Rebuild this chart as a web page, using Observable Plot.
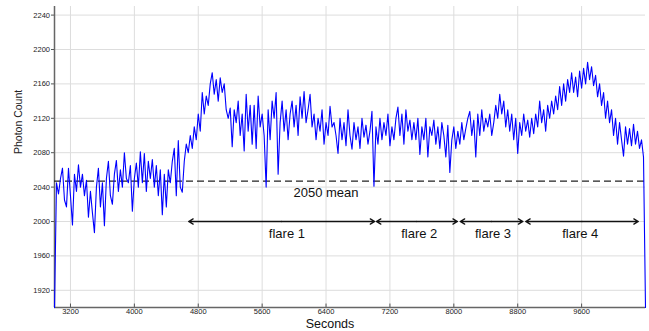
<!DOCTYPE html>
<html><head><meta charset="utf-8">
<script src="https://cdn.jsdelivr.net/npm/d3@7"></script>
<script src="https://cdn.jsdelivr.net/npm/@observablehq/plot@0.6"></script>
<style>body{margin:0;background:#fff}#chart{width:649px;height:331px}</style>
</head><body><div id="chart"></div>
<script>
const startSecond = 3000;
const stepSeconds = 25;
const photonCounts = [
1900,2045,2032,2050,2062,2025,2017,2062,2030,1996,
2055,2035,2066,2040,2055,2030,2048,2005,2035,2010,
1987,2040,2062,2017,2045,1995,2050,2070,2030,2020,
2055,2071,2035,2060,2040,2080,2050,2045,2065,2012,
2050,2068,2040,2081,2045,2079,2035,2070,2050,2072,
2040,2065,2030,2060,2008,2055,2017,2060,2045,2070,
2085,2030,2094,2040,2034,2070,2090,2080,2100,2085,
2110,2095,2125,2105,2150,2125,2146,2135,2160,2173,
2148,2165,2140,2167,2150,2160,2130,2120,2132,2087,
2130,2115,2140,2100,2125,2082,2148,2105,2135,2090,
2135,2085,2146,2110,2125,2100,2040,2130,2095,2140,
2120,2150,2055,2115,2140,2105,2130,2095,2125,2140,
2110,2135,2100,2145,2120,2151,2115,2130,2148,2110,
2125,2095,2120,2105,2130,2090,2115,2100,2134,2110,
2115,2100,2079,2120,2095,2115,2088,2130,2100,2084,
2115,2095,2110,2085,2120,2098,2112,2090,2105,2128,
2041,2110,2090,2120,2095,2115,2100,2125,2088,2110,
2095,2120,2133,2100,2125,2090,2130,2105,2118,2095,
2115,2095,2120,2078,2110,2095,2120,2075,2110,2100,
2118,2090,2110,2085,2115,2100,2075,2112,2057,2095,
2110,2085,2105,2090,2115,2095,2108,2120,2128,2100,
2118,2075,2125,2100,2130,2105,2120,2110,2125,2100,
2115,2135,2120,2148,2125,2140,2110,2130,2105,2125,
2095,2120,2079,2115,2100,2125,2105,2118,2098,2120,
2102,2125,2110,2140,2115,2130,2105,2135,2120,2140,
2125,2146,2130,2157,2135,2160,2140,2165,2150,2173,
2150,2168,2145,2175,2155,2178,2160,2185,2165,2180,
2158,2170,2145,2160,2135,2150,2120,2140,2115,2130,
2100,2120,2090,2115,2095,2076,2110,2090,2108,2088,
2113,2090,2105,2085,2095,2075,1900
];
const meanCount = [2047];
const meanLabel = ["2050 mean"];
const meanLabelX = [6400];
const flareNames = ["flare 1", "flare 2", "flare 3", "flare 4"];
const flareStart = [4680, 7030, 8080, 8900];
const flareEnd = [7010, 8045, 8865, 10310];
const flareLabelX = [5910, 7567, 8490, 9583];
const flareArrowY = 2000;
const xTicks = [3200, 4000, 4800, 5600, 6400, 7200, 8000, 8800, 9600];
const yTicks = [1920, 1960, 2000, 2040, 2080, 2120, 2160, 2200, 2240];
const xDomain = [3000, 10400];
const yDomain = [1900, 2250];

const series = photonCounts.map((c, i) => ({t: startSecond + i * stepSeconds, c}));
const flares = flareNames.map((name, i) => ({
  name, s: flareStart[i], e: flareEnd[i], m: (flareStart[i] + flareEnd[i]) / 2, lx: flareLabelX[i]
}));
const font = "'Liberation Sans', Arial, Helvetica, sans-serif";
const fmt = d => String(d);

const chart = Plot.plot({
  width: 649, height: 331,
  marginLeft: 54, marginRight: 4, marginTop: 6, marginBottom: 24,
  style: {fontFamily: font, background: "white", overflow: "visible"},
  x: {domain: xDomain},
  y: {domain: yDomain},
  marks: [
    Plot.gridX(xTicks, {stroke: "#dddddd", strokeOpacity: 1}),
    Plot.gridY(yTicks, {stroke: "#dddddd", strokeOpacity: 1}),
    Plot.axisX(xTicks, {tickSize: 0, tickPadding: 1.5, fontSize: 7.5, fill: "#222", label: null, tickFormat: fmt}),
    Plot.axisY(yTicks, {tickSize: 3, tickPadding: 1.5, fontSize: 7.5, fill: "#222", stroke: "#555", label: null, tickFormat: fmt}),
    Plot.ruleX(xTicks, {y1: yDomain[0], y2: yDomain[0] + 4, stroke: "#555"}),
    Plot.ruleY([yDomain[0]], {stroke: "#666", strokeWidth: 1.3}),
    Plot.ruleX([xDomain[0]], {stroke: "#666", strokeWidth: 1.5}),
    Plot.ruleY(meanCount, {stroke: "#222", strokeWidth: 1.2, strokeDasharray: "7,4"}),
    Plot.line(series, {x: "t", y: "c", stroke: "#0000ff", strokeWidth: 1.1}),
    Plot.text(meanLabel, {x: meanLabelX, y: meanCount, text: d => d, dy: 12, fontSize: 13, fill: "#111"}),
    Plot.arrow(flares, {x1: "m", x2: "s", y1: flareArrowY, y2: flareArrowY, stroke: "#111", strokeWidth: 1.3, headLength: 6, headAngle: 62}),
    Plot.arrow(flares, {x1: "m", x2: "e", y1: flareArrowY, y2: flareArrowY, stroke: "#111", strokeWidth: 1.3, headLength: 6, headAngle: 62}),
    Plot.text(flares, {x: "lx", y: flareArrowY, text: "name", dy: 12, fontSize: 13, fill: "#111"}),
    Plot.text(["Photon Count"], {frameAnchor: "left", text: d => d, dx: -36, dy: -3, rotate: -90, fontSize: 10.5, fill: "#222"}),
    Plot.text(["Seconds"], {frameAnchor: "bottom", text: d => d, dx: -20, dy: 20, fontSize: 12.5, fill: "#111"})
  ]
});
document.getElementById("chart").appendChild(chart);
</script>
</body></html>
